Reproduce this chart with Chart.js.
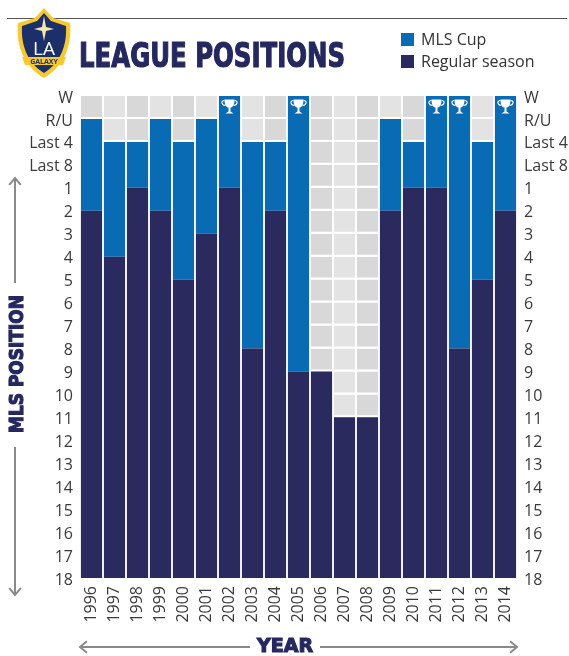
<!DOCTYPE html>
<html>
<head>
<meta charset="utf-8">
<title>League positions</title>
<script src="https://cdn.jsdelivr.net/npm/chart.js@4"></script>
<style>
  html, body { margin: 0; padding: 0; background: #fff; }
  #wrap { position: relative; width: 569px; height: 656px; overflow: hidden; font-family: "Open Sans", sans-serif; }
  canvas { position: absolute; left: 0; top: 0; }
  #rule { position: absolute; left: 7px; top: 18px; width: 560px; height: 1px; background: #555; }
  #logo { position: absolute; left: 14px; top: 7px; }
  #title { position: absolute; left: 79px; top: 36px; font: bold 33px "DejaVu Sans", sans-serif; color: #25285f; -webkit-text-stroke: 1.2px #25285f; white-space: nowrap; transform-origin: left top; transform: scaleX(0.74); }
  .key { position: absolute; left: 401px; font-size: 16px; line-height: 20px; color: #333; white-space: nowrap; transform-origin: left center; }
  .key i { display: inline-block; width: 13px; height: 13px; margin-right: 7px; vertical-align: -1px; }
</style>
</head>
<body>
<div id="wrap">
  <canvas id="league" width="569" height="656"></canvas>
  <div id="rule"></div>
  <svg id="logo" width="60" height="72" viewBox="0 0 60 72">
    <path d="M30 1 L39 11 L56 16 C58 36 52 58 30 71 C8 58 2 36 4 16 L21 11 Z" fill="#f5c92f"/>
    <path d="M30 6 L37 14 L52 19 C53 36 48 55 30 66 C12 55 7 36 8 19 L23 14 Z" fill="#1d2f68"/>
    <path d="M30 9 L32 20 L40 22 L32 24 L30 34 L28 24 L20 22 L28 20 Z" fill="#f4e7b0"/>
    <text x="30" y="48" text-anchor="middle" font-family="Open Sans" font-size="19" fill="#fff">LA</text>
    <path d="M8 50 L52 50 L49 58 L11 58 Z" fill="#f5c92f"/>
    <text x="30" y="57" text-anchor="middle" font-family="Open Sans" font-weight="bold" font-size="7" fill="#1d2f68">GALAXY</text>
  </svg>
  <div id="title">LEAGUE POSITIONS</div>
  <div id="key1" class="key" style="top:29px"></div>
  <div id="key2" class="key" style="top:51px"></div>
</div>
<script>
// 凡例と色
var NAVY = "#2a2a5e";
var BLUE = "#0a6bb5";
var seriesNames = ["MLS Cup", "Regular season"];

var years = ["1996", "1997", "1998", "1999", "2000", "2001", "2002", "2003", "2004", "2005", "2006", "2007", "2008", "2009", "2010", "2011", "2012", "2013", "2014"];
var tickLabels = ["W", "R/U", "Last 4", "Last 8", "1", "2", "3", "4", "5", "6", "7", "8", "9", "10", "11", "12", "13", "14", "15", "16", "17", "18"];
// league finish for each season
var regularSeason = ["2", "4", "1", "2", "5", "3", "1", "8", "2", "9", "9", "11", "11", "2", "1", "1", "8", "5", "2"];
// cup result for each season (null = missed the play-offs)
var mlsCup = ["R/U", "Last 4", "Last 4", "R/U", "Last 4", "R/U", "W", "Last 4", "Last 4", "W", null, null, null, "R/U", "Last 4", "W", "W", "Last 4", "W"];

var rows = tickLabels.length - 1;
var tileColors = years.map(function (y, i) { return i % 2 ? "#e3e3e3" : "#d8d8d8"; });

var datasets = [
  {
    label: seriesNames[1],
    backgroundColor: NAVY,
    data: regularSeason.map(function (p) { return [tickLabels.indexOf(p), rows]; }),
  },
  {
    label: seriesNames[0],
    backgroundColor: BLUE,
    data: mlsCup.map(function (c, i) {
      return c === null ? null : [tickLabels.indexOf(c), tickLabels.indexOf(regularSeason[i])];
    }),
  },
];
// 背景のグレーのマス
for (var r = 0; r < rows; r++) {
  datasets.push({
    label: "",
    backgroundColor: tileColors,
    borderColor: "#fff",
    borderWidth: { bottom: 2 },
    borderSkipped: false,
    data: years.map(function () { return [r, r + 1]; }),
  });
}

function tickLabel(v) {
  return tickLabels[v];
}

function yAxis(position, width) {
  return {
    type: "linear",
    position: position,
    reverse: true,
    min: 0,
    max: rows,
    grid: { display: false, drawTicks: false },
    border: { display: false },
    ticks: {
      stepSize: 1,
      autoSkip: false,
      callback: tickLabel,
      color: "#3a3a3a",
      padding: 7,
      labelOffset: 2,
      font: { family: "'Open Sans'", size: 16 },
    },
    afterFit: function (scale) { scale.width = width; },
  };
}

function arrow(ctx, x1, y1, x2, y2) {
  var a = Math.atan2(y2 - y1, x2 - x1);
  ctx.beginPath();
  ctx.moveTo(x1, y1);
  ctx.lineTo(x2, y2);
  ctx.moveTo(x2 - 9 * Math.cos(a - 0.7), y2 - 9 * Math.sin(a - 0.7));
  ctx.lineTo(x2, y2);
  ctx.lineTo(x2 - 9 * Math.cos(a + 0.7), y2 - 9 * Math.sin(a + 0.7));
  ctx.stroke();
}

function trophy(ctx, x, y) {
  ctx.fillStyle = "#fff";
  ctx.strokeStyle = "#fff";
  ctx.lineWidth = 1.2;
  ctx.beginPath();
  ctx.moveTo(x - 5, y - 7);
  ctx.lineTo(x + 5, y - 7);
  ctx.bezierCurveTo(x + 5, y - 1, x + 3, y + 1, x + 1, y + 1);
  ctx.lineTo(x + 1, y + 5);
  ctx.lineTo(x + 4, y + 7);
  ctx.lineTo(x - 4, y + 7);
  ctx.lineTo(x - 1, y + 5);
  ctx.lineTo(x - 1, y + 1);
  ctx.bezierCurveTo(x - 3, y + 1, x - 5, y - 1, x - 5, y - 7);
  ctx.fill();
  ctx.beginPath();
  ctx.moveTo(x - 5, y - 6);
  ctx.bezierCurveTo(x - 9, y - 6, x - 8, y - 1, x - 4, y - 1);
  ctx.moveTo(x + 5, y - 6);
  ctx.bezierCurveTo(x + 9, y - 6, x + 8, y - 1, x + 4, y - 1);
  ctx.stroke();
}

function heavyText(ctx, text, x, y, sx, sy, angle) {
  ctx.save();
  ctx.translate(x, y);
  ctx.rotate(angle);
  ctx.scale(sx, sy);
  ctx.lineWidth = 1.2;
  ctx.strokeStyle = ctx.fillStyle;
  ctx.strokeText(text, 0, 0);
  ctx.fillText(text, 0, 0);
  ctx.restore();
}

// トロフィーと軸の矢印
var decorations = {
  id: "decorations",
  afterDatasetsDraw: function (chart) {
    var ctx = chart.ctx;
    var xs = chart.scales.x;
    var ys = chart.scales.y;
    ctx.save();
    mlsCup.forEach(function (c, i) {
      if (c === "W") trophy(ctx, xs.getPixelForValue(i), ys.getPixelForValue(0.5) - 1);
    });

    ctx.strokeStyle = "#8a8a8a";
    ctx.lineWidth = 2;
    arrow(ctx, 15, 283, 15, 178);
    arrow(ctx, 15, 447, 15, 595);
    arrow(ctx, 250, 647, xs.left, 647);
    arrow(ctx, 320, 647, xs.right, 647);

    ctx.fillStyle = "#25285f";
    ctx.textAlign = "center";
    ctx.textBaseline = "middle";
    ctx.font = "bold 20px 'DejaVu Sans'";
    heavyText(ctx, "MLS POSITION", 18, 364, 0.85, 0.98, -Math.PI / 2);
    heavyText(ctx, "YEAR", 285, 647, 0.95, 0.98, 0);
    ctx.restore();
  },
};

var ctx = document.getElementById("league");
new Chart(ctx, {
  type: "bar",
  data: { labels: years, datasets: datasets },
  plugins: [decorations],
  options: {
    responsive: false,
    animation: false,
    layout: { padding: { top: 96, left: 0, right: 0, bottom: 0 } },
    plugins: { legend: { display: false }, tooltip: { enabled: false } },
    datasets: { bar: { barPercentage: 1, categoryPercentage: 0.92 } },
    scales: {
      x: {
        stacked: true,
        grid: { display: false, drawTicks: false },
        border: { display: false },
        ticks: {
          autoSkip: false,
          minRotation: 90,
          maxRotation: 90,
          color: "#3a3a3a",
          padding: 8,
          font: { family: "'Open Sans'", size: 16 },
        },
        afterFit: function (scale) { scale.height = 78; },
      },
      y: yAxis("left", 80),
      y2: yAxis("right", 52),
    },
  },
});

document.getElementById("key1").innerHTML = '<i style="background:' + BLUE + '"></i>' + seriesNames[0];
document.getElementById("key2").innerHTML = '<i style="background:' + NAVY + '"></i>' + seriesNames[1];
</script>
</body>
</html>
